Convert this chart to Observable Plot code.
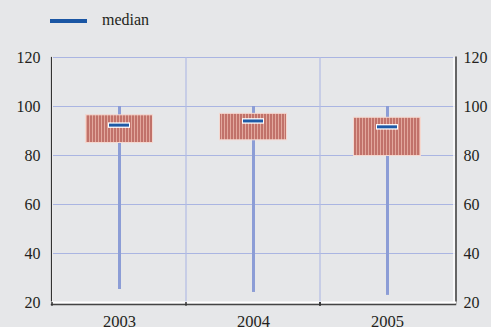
<!DOCTYPE html>
<html>
<head>
<meta charset="utf-8">
<script src="https://cdn.jsdelivr.net/npm/d3@7"></script>
<script src="https://cdn.jsdelivr.net/npm/@observablehq/plot@0.6"></script>
<style>
  html, body { margin: 0; padding: 0; background: #e6e7e9; width: 491px; height: 327px; overflow: hidden; }
  #legend { position: relative; height: 40px; font-family: "Liberation Serif", "Times New Roman", serif; font-size: 16px; color: #231f20; }
  #legend .swatch { position: absolute; left: 50px; top: 19px; width: 37px; height: 4px; background: #1a56a4; }
  #legend .label { position: absolute; left: 102px; top: 10px; line-height: 20px; }
  svg { display: block; }
  svg text { font-family: "Liberation Serif", "Times New Roman", serif !important; }
</style>
</head>
<body>
<div id="legend"><div class="swatch"></div><div class="label">median</div></div>
<div id="chart"></div>
<script>
const years = ["2003", "2004", "2005"];
const minValues = [25.3, 24.1, 22.9];
const q1Values = [85.1, 86.2, 79.8];
const medianValues = [92.4, 94.1, 91.7];
const q3Values = [96.4, 97.0, 95.4];
const maxValues = [100, 100, 100];
const yTicks = [20, 40, 60, 80, 100, 120];
const gridValues = [40, 60, 80, 100, 120];

const data = years.map((year, i) => ({
  year, min: minValues[i], q1: q1Values[i], median: medianValues[i], q3: q3Values[i], max: maxValues[i]
}));

const W = 491, H = 287, ML = 51, MR = 36, MT = 17, MB = 25;
const bw = (W - ML - MR) / years.length;
const bounds = years.map(y => ({year: y, dx: -bw / 2})).concat([{year: years[years.length - 1], dx: bw / 2}]);
const innerBounds = bounds.slice(1, -1);

const grid = "#aab5e2";
const chart = Plot.plot({
  width: W, height: H,
  marginLeft: ML, marginRight: MR, marginTop: MT, marginBottom: MB,
  style: { background: "transparent", fontFamily: "'Liberation Serif', 'Times New Roman', serif", fontSize: "16px", color: "#231f20" },
  x: { type: "band", domain: years, padding: 0, label: null },
  y: { domain: [20, 120], label: null },
  marks: [
    Plot.ruleY(gridValues, { stroke: grid, strokeWidth: 1 }),
    Plot.ruleX(innerBounds, { x: "year", dx: d => d.dx, stroke: "#b3bde4", strokeWidth: 1.2 }),
    Plot.ruleX(data, { x: "year", y1: "min", y2: "max", stroke: "#8c9dd6", strokeWidth: 3 }),
    Plot.barY(data, { x: "year", y1: "q1", y2: "q3", fill: "url(#stripes)", stroke: "#f4d8d0", strokeWidth: 1, insetLeft: 33.5, insetRight: 33.5 }),
    Plot.tickY(data, { x: "year", y: "median", stroke: "white", strokeWidth: 5.5, insetLeft: 56, insetRight: 56 }),
    Plot.tickY(data, { x: "year", y: "median", stroke: "#1f5aa6", strokeWidth: 3, insetLeft: 57, insetRight: 57 }),
    // axis lines
    Plot.frame({ anchor: "left", stroke: "white", strokeWidth: 1, dx: 1 }),
    Plot.frame({ anchor: "left", stroke: "#333", strokeWidth: 1.2 }),
    Plot.frame({ anchor: "right", stroke: "white", strokeWidth: 1.5, dx: -1.5 }),
    Plot.frame({ anchor: "right", stroke: "#666", strokeWidth: 2, dx: 0.5 }),
    Plot.frame({ anchor: "bottom", stroke: "white", strokeWidth: 2 }),
    Plot.frame({ anchor: "bottom", stroke: "#444", strokeWidth: 1.5, dy: 2 }),
    Plot.ruleX(bounds, { x: "year", dx: d => d.dx, y1: 20, y2: 18.5, stroke: "#333", strokeWidth: 1.5 }),
    Plot.axisY(yTicks, { anchor: "left", tickSize: 0, tickPadding: 11, fontSize: 16, fill: "#231f20", label: null }),
    Plot.axisY(yTicks, { anchor: "right", tickSize: 0, tickPadding: 8, fontSize: 16, fill: "#231f20", label: null }),
    Plot.axisX({ anchor: "bottom", tickSize: 0, tickPadding: 13, fontSize: 16.5, fill: "#231f20", label: null })
  ]
});

const ns = "http://www.w3.org/2000/svg";
const defs = document.createElementNS(ns, "defs");
defs.innerHTML = '<pattern id="stripes" patternUnits="userSpaceOnUse" width="3" height="10">' +
  '<rect width="3" height="10" fill="#e2a89d"/><rect width="2" height="10" fill="#c1726a"/></pattern>';
chart.insertBefore(defs, chart.firstChild);
document.getElementById("chart").appendChild(chart);
</script>
</body>
</html>
